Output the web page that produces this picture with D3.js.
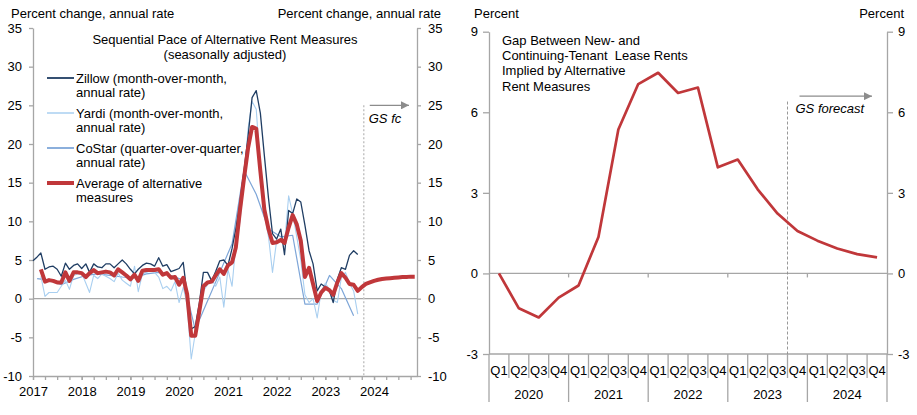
<!DOCTYPE html>
<html>
<head>
<meta charset="utf-8">
<script src="https://cdn.jsdelivr.net/npm/d3@7"></script>
<style>
  body { margin: 0; background: #ffffff; }
  svg text { font-family: "Liberation Sans", Arial, sans-serif; font-size: 13px; fill: #000; }
</style>
</head>
<body>
<div id="chart"></div>
<script>
// ---- left panel data (monthly, percent change annual rate) ----
var zillowStart = new Date(2017, 0, 1);
var zillowValues = [
  4.9, 5.4, 5.9, 3.8, 4.1, 4.2, 3.8, 2.9, 4.6, 3.8, 4.3, 4.5,
  3.9, 4.5, 3.4, 4.5, 4.1, 4.0, 4.5, 4.5, 4.0, 4.5, 5.0, 4.5,
  3.8, 3.2, 3.8, 4.3, 4.6, 4.5, 4.2, 5.3, 4.2, 4.4, 3.5, 3.7,
  3.9, 4.7, 0.5, -3.9, -3.6, -0.5, 3.4, 3.4, 2.3, 3.5, 4.9, 5.0,
  4.3, 6.5, 9.0, 12.5, 16.5, 21.0, 26.0, 26.9, 24.0, 18.5, 13.0, 8.4,
  7.7, 9.0, 5.7, 11.4, 11.0, 12.9, 12.5, 9.5, 6.2, 4.5, 1.0, 1.9,
  1.5, 1.0, -0.5, 2.5, 4.0, 3.8, 5.6, 6.2, 5.7
];

var yardiStart = new Date(2017, 2, 1);
var yardiValues = [
  2.9, 0.3, 0.8, 0.8, 0.8, 1.6, 2.4, 1.2, 3.0, 3.2,
  3.3, 2.0, 0.8, 3.0, 2.6, 3.2, 2.9, 2.6, 2.2, 3.3, 2.4, 2.0,
  1.6, 4.2, 0.9, 3.2, 3.4, 3.6, 3.4, 2.8, 1.3, 1.6, 1.0, 2.2,
  -0.5, 1.5, -0.8, -7.8, -4.5, -2.0, 1.0, 1.8, 2.5, 1.6, 2.8, -1.1,
  3.8, 1.6, 7.0, 10.0, 15.0, 22.0, 25.5, 24.5, 17.0, 11.0, 8.0, 3.4,
  7.5, 7.6, 7.0, 13.3, 11.0, 8.0, 5.0, 0.5, -0.5, 0.0, -2.5, 1.0,
  2.0, 1.2, -0.2, -0.5, 2.7, 3.4, 2.0, 1.0, -2.0
];

// CoStar is quarterly (one point every third month)
var costarStart = new Date(2017, 1, 1);
var costarValues = [
  2.6, 2.4, 1.8, 2.5, 3.0, 3.2, 3.0, 2.8, 2.7, 3.2, 3.4, 3.0,
  2.4, -4.0, -0.3, 3.4, 7.1, 16.6, 13.5, 9.0, 8.0, 8.2, -0.7, -0.7,
  3.0, 1.3, -2.2
];

var averageStart = new Date(2017, 2, 1);
var averageValues = [
  3.8, 2.2, 2.4, 2.3, 2.1, 2.1, 3.4, 2.3, 3.4, 3.4,
  3.3, 2.8, 3.3, 3.7, 3.3, 3.4, 3.5, 3.4, 3.0, 3.8, 3.4, 3.0,
  2.5, 3.1, 2.3, 3.6, 3.7, 3.7, 3.7, 3.8, 3.1, 3.3, 2.7, 2.8,
  1.8, 2.7, 0.6, -4.8, -4.8, -1.6, 1.6, 2.1, 2.2, 3.0, 3.8, 3.2,
  4.3, 4.7, 6.6, 11.4, 15.5, 19.5, 22.2, 22.0, 16.5, 11.5, 9.0, 7.2,
  7.3, 7.6, 7.2, 9.2, 10.8, 9.6, 7.5, 2.8, 4.0, 1.9, -0.3, 0.8,
  1.4, 1.1, 0.5, 2.1, 3.3, 2.7, 1.9, 1.8, 1.0, 1.5, 1.9, 2.1,
  2.3, 2.45, 2.55, 2.6, 2.65, 2.7, 2.75, 2.8, 2.8, 2.85, 2.85
];

var leftForecastDate = new Date(2023, 9, 16);
var leftTicks = [-10, -5, 0, 5, 10, 15, 20, 25, 30, 35];

// ---- right panel data (quarterly gap, percent) ----
var gapYears = [2020, 2021, 2022, 2023, 2024];
var gapQuarters = ["Q1", "Q2", "Q3", "Q4"];
var gapValues = [
  0.0, -1.3, -1.64, -0.9,
  -0.45, 1.36, 5.36, 7.05,
  7.47, 6.72, 6.92, 3.95,
  4.24, 3.13, 2.23, 1.58,
  1.22, 0.93, 0.72, 0.6
];
var gapForecastStart = "2023Q4";
var rightTicks = [-3, 0, 3, 6, 9];

// ---- colours ----
var red = "#c0373a";
var axisGrey = "#a6a6a6";

var width = 917;
var height = 415;

var svg = d3.select("#chart")
  .append("svg")
  .attr("width", width)
  .attr("height", height);

var defs = svg.append("defs");
defs.append("marker")
  .attr("id", "arrow")
  .attr("viewBox", "0 0 10 10")
  .attr("refX", 10)
  .attr("refY", 5)
  .attr("markerUnits", "userSpaceOnUse")
  .attr("markerWidth", 9)
  .attr("markerHeight", 8)
  .attr("orient", "auto")
  .append("path")
  .attr("d", "M0,0L10,5L0,10Z")
  .attr("fill", "#8c8c8c");

// turn a start date + values into {date, value} records
function toSeries(start, values, step) {
  return values.map(function(v, i) {
    return { date: d3.timeMonth.offset(start, i * step), value: v };
  });
}

function styleAxis(g) {
  g.selectAll(".domain").attr("stroke", axisGrey).attr("stroke-width", 1.3);
  g.selectAll(".tick line").attr("stroke", axisGrey).attr("stroke-width", 1.3);
  g.selectAll("text")
    .attr("fill", "#000")
    .style("font-family", "'Liberation Sans', Arial, sans-serif")
    .style("font-size", "13px");
}

/* ================= LEFT PANEL ================= */
var left = { x0: 33, x1: 417, top: 28, bottom: 376 };

var xL = d3.scaleTime()
  .domain([new Date(2017, 0, 1), new Date(2024, 10, 18)])
  .range([left.x0, left.x1]);

var yL = d3.scaleLinear()
  .domain([-10, 35])
  .range([left.bottom, left.top]);

// zero line
svg.append("line")
  .attr("x1", left.x0).attr("x2", left.x1)
  .attr("y1", yL(0)).attr("y2", yL(0))
  .attr("stroke", axisGrey)
  .attr("stroke-width", 1.3);

// left & right y axes
svg.append("g")
  .attr("transform", "translate(" + left.x0 + ",0)")
  .call(d3.axisLeft(yL).tickValues(leftTicks).tickSize(4).tickSizeOuter(0).tickPadding(7)
    .tickFormat(function(d) { return String(d); }))
  .call(styleAxis);

svg.append("g")
  .attr("transform", "translate(" + left.x1 + ",0)")
  .call(d3.axisRight(yL).tickValues(leftTicks).tickSize(4).tickSizeOuter(0).tickPadding(7)
    .tickFormat(function(d) { return String(d); }))
  .call(styleAxis);

// x axis: quarterly ticks, year labels
svg.append("g")
  .attr("transform", "translate(0," + left.bottom + ")")
  .call(d3.axisBottom(xL).ticks(d3.timeMonth.every(3)).tickSize(4).tickSizeOuter(0).tickFormat(""))
  .call(styleAxis);

svg.append("g")
  .attr("transform", "translate(0," + left.bottom + ")")
  .call(d3.axisBottom(xL).ticks(d3.timeYear.every(1)).tickSize(4).tickSizeOuter(0).tickPadding(7)
    .tickFormat(d3.timeFormat("%Y")))
  .call(styleAxis)
  .call(function(g) { g.select(".domain").remove(); });

// forecast marker
svg.append("line")
  .attr("x1", xL(leftForecastDate)).attr("x2", xL(leftForecastDate))
  .attr("y1", yL(25)).attr("y2", left.bottom)
  .attr("stroke", "#c4c4c4")
  .attr("stroke-width", 1.5)
  .attr("stroke-dasharray", "2,2");

svg.append("line")
  .attr("x1", xL(leftForecastDate) + 6).attr("x2", left.x1 - 8)
  .attr("y1", yL(25)).attr("y2", yL(25))
  .attr("stroke", "#8c8c8c")
  .attr("stroke-width", 1.3)
  .attr("marker-end", "url(#arrow)");

svg.append("text")
  .attr("x", xL(leftForecastDate) + 5)
  .attr("y", yL(25) + 18)
  .style("font-style", "italic")
  .text("GS fc");

var lineL = d3.line()
  .x(function(d) { return xL(d.date); })
  .y(function(d) { return yL(d.value); });

var leftSeries = [
  { name: "CoStar", data: toSeries(costarStart, costarValues, 3), color: "#7ea6d8", width: 1.2 },
  { name: "Yardi", data: toSeries(yardiStart, yardiValues, 1), color: "#a9cff0", width: 1.1 },
  { name: "Zillow", data: toSeries(zillowStart, zillowValues, 1), color: "#1f3d63", width: 1.3 },
  { name: "Average", data: toSeries(averageStart, averageValues, 1), color: red, width: 4 }
];

svg.selectAll(".series")
  .data(leftSeries)
  .enter()
  .append("path")
  .attr("class", "series")
  .attr("fill", "none")
  .attr("stroke", function(d) { return d.color; })
  .attr("stroke-width", function(d) { return d.width; })
  .attr("stroke-linejoin", "round")
  .attr("d", function(d) { return lineL(d.data); });

// axis titles
svg.append("text").attr("x", 11).attr("y", 18).text("Percent change, annual rate");
svg.append("text").attr("x", 441).attr("y", 18).attr("text-anchor", "end").text("Percent change, annual rate");

// chart title
svg.append("text").attr("x", 225).attr("y", 44).attr("text-anchor", "middle")
  .text("Sequential Pace of Alternative Rent Measures");
svg.append("text").attr("x", 225).attr("y", 59).attr("text-anchor", "middle")
  .text("(seasonally adjusted)");

// legend
var legendItems = [
  { lines: ["Zillow (month-over-month,", "annual rate)"], color: "#1f3d63", width: 1.8 },
  { lines: ["Yardi (month-over-month,", "annual rate)"], color: "#a9cff0", width: 1.5 },
  { lines: ["CoStar (quarter-over-quarter,", "annual rate)"], color: "#7ea6d8", width: 1.8 },
  { lines: ["Average of alternative", "measures"], color: red, width: 4 }
];
var legendY = [78, 113, 148, 183];

var legend = svg.selectAll(".legend")
  .data(legendItems)
  .enter()
  .append("g")
  .attr("class", "legend")
  .attr("transform", function(d, i) { return "translate(0," + legendY[i] + ")"; });

legend.append("line")
  .attr("x1", 47).attr("x2", 74)
  .attr("y1", 0).attr("y2", 0)
  .attr("stroke", function(d) { return d.color; })
  .attr("stroke-width", function(d) { return d.width; });

legend.append("text")
  .attr("x", 76)
  .attr("y", 4.5)
  .text(function(d) { return d.lines[0]; });

legend.append("text")
  .attr("x", 76)
  .attr("y", 19)
  .text(function(d) { return d.lines[1]; });

/* ================= RIGHT PANEL ================= */
var right = { x0: 489, x1: 887, top: 31.7, bottom: 354 };

var gapKeys = [];
gapYears.forEach(function(y) {
  gapQuarters.forEach(function(q) { gapKeys.push(y + q); });
});

var xR = d3.scaleBand()
  .domain(gapKeys)
  .range([right.x0, right.x1]);

var yR = d3.scaleLinear()
  .domain([-3, 9])
  .range([right.bottom, right.top]);

svg.append("g")
  .attr("transform", "translate(" + right.x0 + ",0)")
  .call(d3.axisLeft(yR).tickValues(rightTicks).tickSize(6).tickSizeOuter(0).tickPadding(5)
    .tickFormat(function(d) { return String(d); }))
  .call(styleAxis);

svg.append("g")
  .attr("transform", "translate(" + right.x1 + ",0)")
  .call(d3.axisRight(yR).tickValues(rightTicks).tickSize(6).tickSizeOuter(0).tickPadding(5)
    .tickFormat(function(d) { return String(d); }))
  .call(styleAxis);

// bottom line and zero line
svg.append("line")
  .attr("x1", right.x0).attr("x2", right.x1)
  .attr("y1", right.bottom).attr("y2", right.bottom)
  .attr("stroke", axisGrey).attr("stroke-width", 1.3);

svg.append("line")
  .attr("x1", right.x0).attr("x2", right.x1)
  .attr("y1", yR(0)).attr("y2", yR(0))
  .attr("stroke", axisGrey).attr("stroke-width", 1.3);

// small ticks on the zero line at year boundaries
var yearStarts = gapYears.slice(1).map(function(y) { return xR(y + "Q1"); });
svg.selectAll(".zerotick")
  .data(yearStarts)
  .enter()
  .append("line")
  .attr("x1", function(d) { return d; }).attr("x2", function(d) { return d; })
  .attr("y1", yR(0)).attr("y2", yR(0) + 4)
  .attr("stroke", axisGrey).attr("stroke-width", 1.3);

// category separators (quarter short, year long)
var boundaries = gapKeys.map(function(k, i) { return { x: xR(k), year: i % 4 === 0 }; });
boundaries.push({ x: right.x1, year: true });

svg.selectAll(".sep")
  .data(boundaries)
  .enter()
  .append("line")
  .attr("x1", function(d) { return d.x; }).attr("x2", function(d) { return d.x; })
  .attr("y1", right.bottom)
  .attr("y2", function(d) { return d.year ? 402 : 378; })
  .attr("stroke", axisGrey).attr("stroke-width", 1.3);

// quarter labels
svg.selectAll(".qlabel")
  .data(gapKeys)
  .enter()
  .append("text")
  .attr("x", function(d) { return xR(d) + xR.bandwidth() / 2; })
  .attr("y", 375)
  .attr("text-anchor", "middle")
  .text(function(d) { return d.slice(4); });

// year labels
svg.selectAll(".ylabel")
  .data(gapYears)
  .enter()
  .append("text")
  .attr("x", function(d) { return xR(d + "Q1") + xR.bandwidth() * 2; })
  .attr("y", 399)
  .attr("text-anchor", "middle")
  .text(function(d) { return d; });

// forecast marker
var fx = xR(gapForecastStart);
svg.append("line")
  .attr("x1", fx).attr("x2", fx)
  .attr("y1", yR(6.4)).attr("y2", right.bottom)
  .attr("stroke", "#8c8c8c")
  .attr("stroke-width", 0.9)
  .attr("stroke-dasharray", "3,2");

svg.append("line")
  .attr("x1", fx + 12).attr("x2", right.x1 - 15)
  .attr("y1", yR(6.6)).attr("y2", yR(6.6))
  .attr("stroke", "#8c8c8c")
  .attr("stroke-width", 1.3)
  .attr("marker-end", "url(#arrow)");

svg.append("text")
  .attr("x", fx + 8)
  .attr("y", yR(6.6) + 17)
  .style("font-style", "italic")
  .text("GS forecast");

// gap line
var lineR = d3.line()
  .x(function(d, i) { return xR(gapKeys[i]) + xR.bandwidth() / 2; })
  .y(function(d) { return yR(d); });

svg.append("path")
  .attr("fill", "none")
  .attr("stroke", red)
  .attr("stroke-width", 2.7)
  .attr("stroke-linejoin", "round")
  .attr("d", lineR(gapValues));

// axis titles and chart title
svg.append("text").attr("x", 474).attr("y", 18).text("Percent");
svg.append("text").attr("x", 904).attr("y", 18).attr("text-anchor", "end").text("Percent");

var rightTitle = ["Gap Between New- and", "Continuing-Tenant  Lease Rents", "Implied by Alternative", "Rent Measures"];
svg.selectAll(".rtitle")
  .data(rightTitle)
  .enter()
  .append("text")
  .attr("x", 502)
  .attr("y", function(d, i) { return 45 + i * 15.2; })
  .style("white-space", "pre")
  .text(function(d) { return d; });
</script>
</body>
</html>
